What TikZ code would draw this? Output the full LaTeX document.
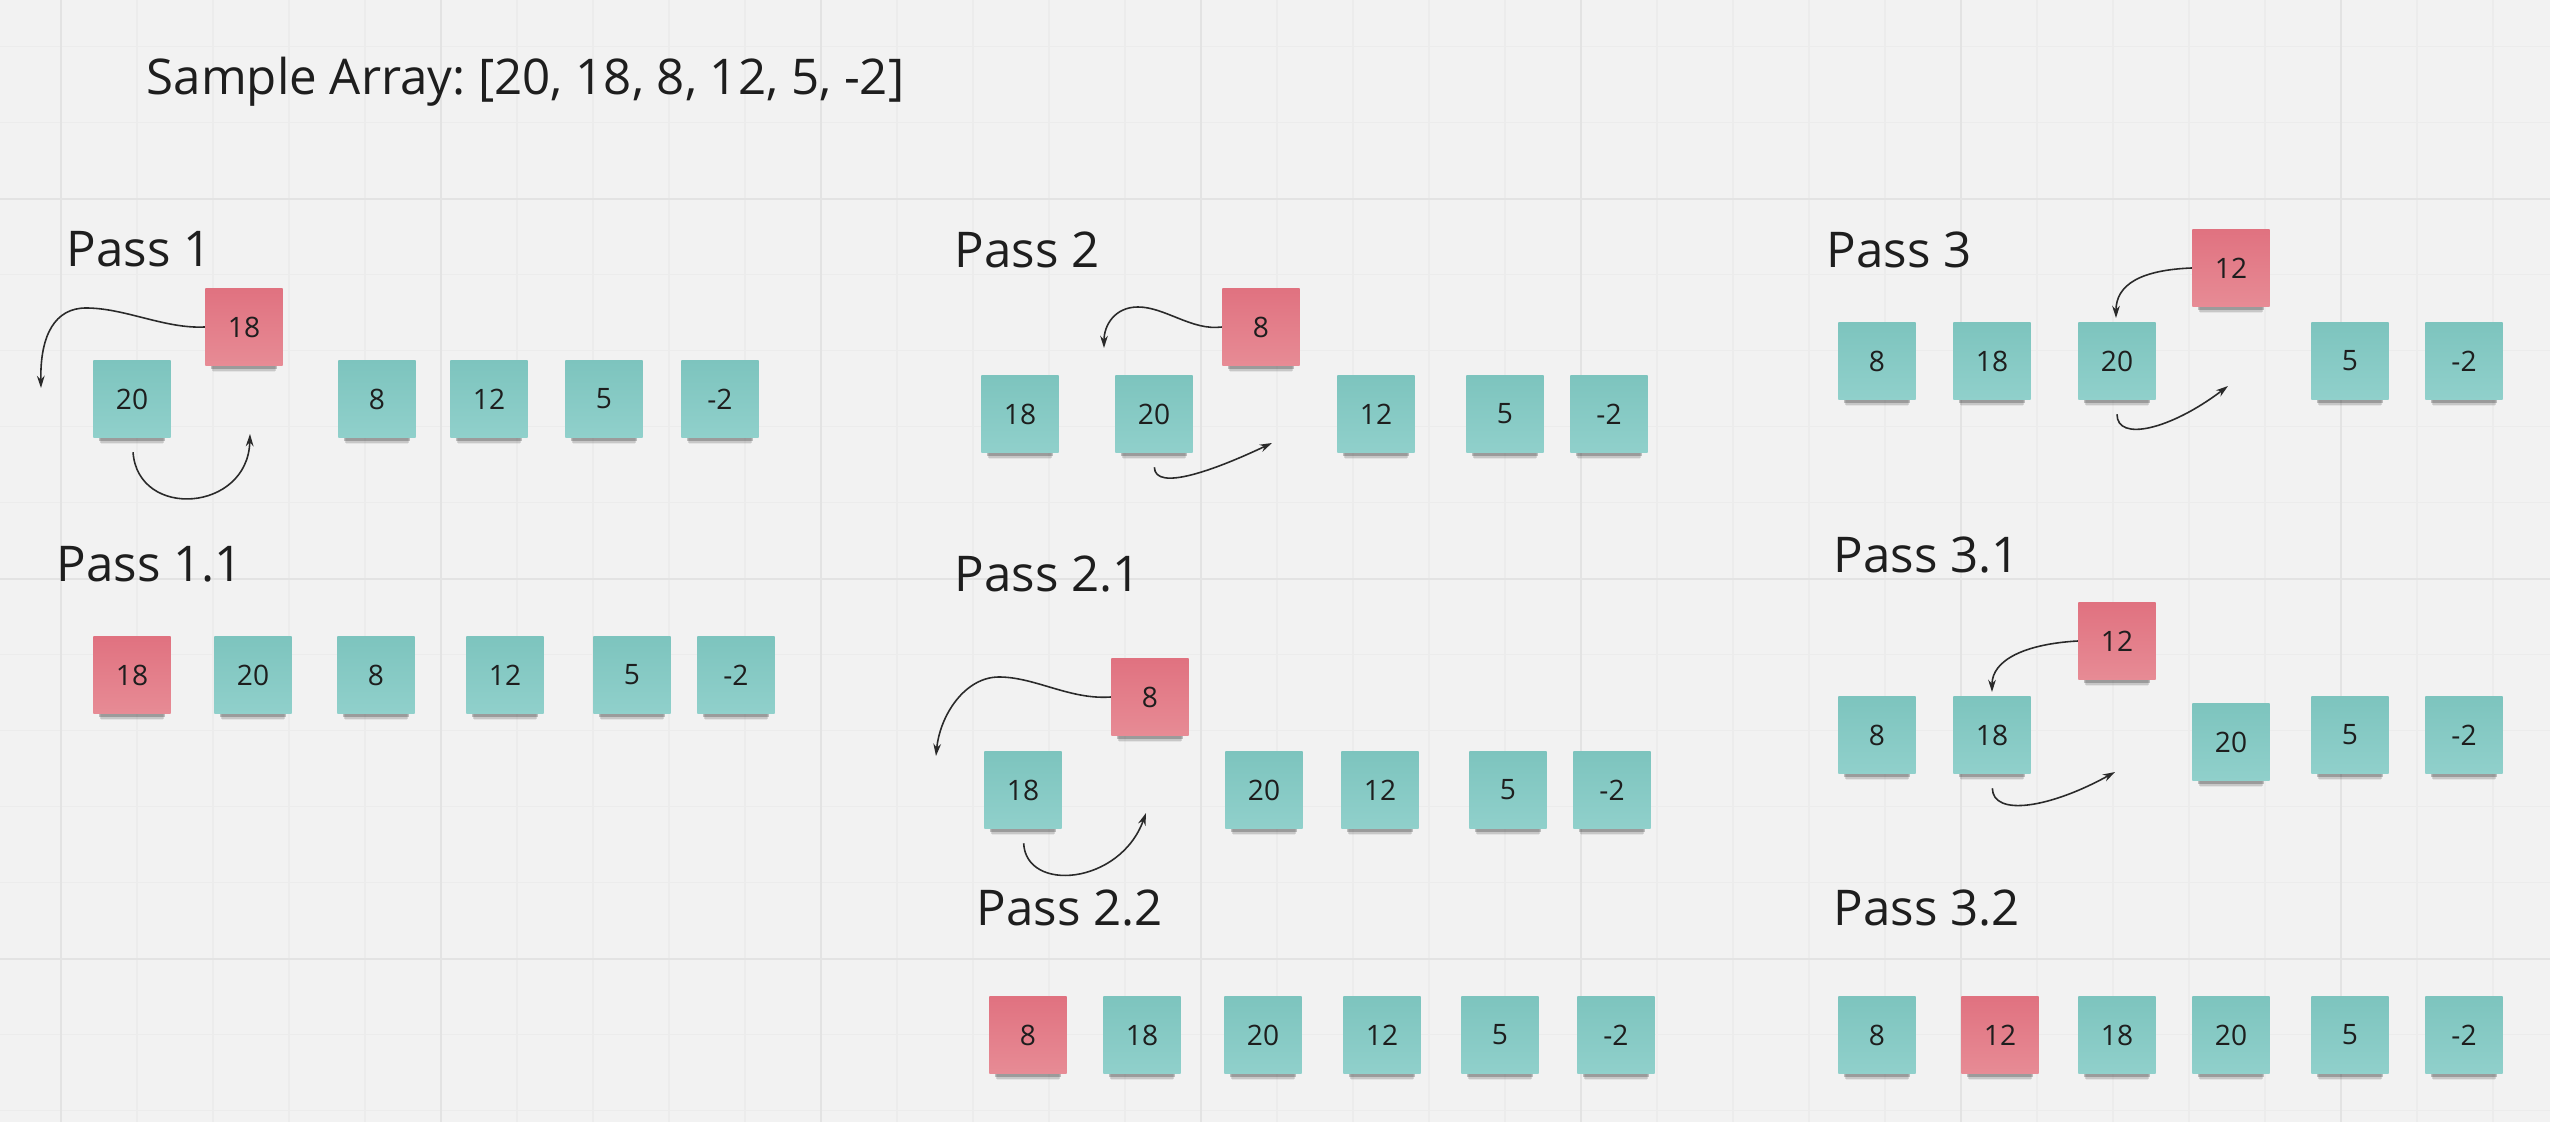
\documentclass[tikz,border=0pt]{standalone}
\usepackage{fontspec}
\setmainfont{Open Sans}
\frenchspacing
\usepackage{xcolor}
\definecolor{board}{HTML}{F2F2F2}
\definecolor{gridfaint}{HTML}{ECECEC}
\definecolor{gridbold}{HTML}{E3E3E3}
\definecolor{tealtop}{HTML}{7DC4BE}
\definecolor{tealbot}{HTML}{90D0CB}
\definecolor{redtop}{HTML}{E07280}
\definecolor{redbot}{HTML}{E78B95}
\definecolor{ink}{HTML}{1E1E1E}
\definecolor{wire}{HTML}{2A2A2A}
\usepackage{tikz}
\usetikzlibrary{arrows.meta,shadows}

\begin{document}
\begin{tikzpicture}[
  x=0.01cm, y=-0.01cm,
  note/.style={minimum width=0.77cm, minimum height=0.77cm, inner sep=0pt,
    top color=tealtop, bottom color=tealbot, text=ink,
    font=\fontsize{8}{9}\selectfont,
    general shadow={fill=black, opacity=.06, shadow yshift=-5.2pt, shadow scale=.8},
    general shadow={fill=black, opacity=.12, shadow yshift=-4pt, shadow scale=.83},
    general shadow={fill=black, opacity=.22, shadow yshift=-2.8pt, shadow scale=.86}},
  keynote/.style={note, top color=redtop, bottom color=redbot},
  lbl/.style={anchor=base west, inner sep=0pt, text=ink, font=\fontsize{14}{16}\selectfont},
  arr/.style={-{Stealth[length=3.5pt, width=2.2pt]}, wire, line width=.45pt},
  gridfine/.style={gridfaint, line width=.35pt},
  gridmain/.style={gridbold, line width=.6pt}
]
\useasboundingbox (0,0) rectangle (2550,1122);
\fill[board] (0,0) rectangle (2550,1122);
\foreach \gx in {61,137,...,2550} \draw[gridfine] (\gx,0) -- (\gx,1122);
\foreach \gy in {46.6,122.6,...,1122} \draw[gridfine] (0,\gy) -- (2550,\gy);
\foreach \gx in {61,441,...,2550} \draw[gridmain] (\gx,0) -- (\gx,1122);
\foreach \gy in {198.6,578.6,958.6} \draw[gridmain] (0,\gy) -- (2550,\gy);

\node[lbl] (title) at (146,95) {Sample Array: [20, 18, 8, 12, 5, -2]};

\node[lbl] (pass1) at (66,267) {Pass 1};
\node[keynote] (k1) at (244,327) {18};
\node[note] (p1a) at (132,399) {20};
\node[note] (p1b) at (377,399) {8};
\node[note] (p1c) at (489,399) {12};
\node[note] (p1d) at (604,399) {5};
\node[note] (p1e) at (720,399) {-2};
\coordinate (k1bend) at (86,308);
\coordinate (k1to) at (41,388);
\coordinate (p1to) at (250,434);
\draw[arr] (k1.west) .. controls (165,329) and (125,308) .. (k1bend)
  .. controls (55,308) and (40,335) .. (k1to);
\draw[arr, shorten <=4pt] (p1a.south) .. controls (138,520) and (248,512) .. (p1to);

\node[lbl] (pass11) at (56,582) {Pass 1.1};
\node[keynote] (q1a) at (132,675) {18};
\node[note] (q1b) at (253,675) {20};
\node[note] (q1c) at (376,675) {8};
\node[note] (q1d) at (505,675) {12};
\node[note] (q1e) at (632,675) {5};
\node[note] (q1f) at (736,675) {-2};

\node[lbl] (pass2) at (954,268) {Pass 2};
\node[keynote] (k2) at (1261,327) {8};
\node[note] (p2a) at (1020,414) {18};
\node[note] (p2b) at (1154,414) {20};
\node[note] (p2c) at (1376,414) {12};
\node[note] (p2d) at (1505,414) {5};
\node[note] (p2e) at (1609,414) {-2};
\coordinate (k2bend) at (1138,307);
\coordinate (k2to) at (1104,348);
\coordinate (p2to) at (1272,443);
\draw[arr] (k2.west) .. controls (1192,331) and (1165,307) .. (k2bend)
  .. controls (1115,307) and (1104,325) .. (k2to);
\draw[arr, shorten <=4pt] (p2b.south) .. controls (1155,492) and (1215,470) .. (p2to);

\node[lbl] (pass21) at (954,592) {Pass 2.1};
\node[keynote] (k21) at (1150,697) {8};
\node[note] (r2a) at (1023,790) {18};
\node[note] (r2b) at (1264,790) {20};
\node[note] (r2c) at (1380,790) {12};
\node[note] (r2d) at (1508,790) {5};
\node[note] (r2e) at (1612,790) {-2};
\coordinate (k21bend) at (999,677);
\coordinate (k21to) at (936,756);
\coordinate (r2to) at (1146,813);
\draw[arr] (k21.west) .. controls (1070,700) and (1035,677) .. (k21bend)
  .. controls (965,677) and (940,715) .. (k21to);
\draw[arr, shorten <=4pt] (r2a.south) .. controls (1026,893) and (1120,885) .. (r2to);

\node[lbl] (pass22) at (976,926) {Pass 2.2};
\node[keynote] (s2a) at (1028,1035) {8};
\node[note] (s2b) at (1142,1035) {18};
\node[note] (s2c) at (1263,1035) {20};
\node[note] (s2d) at (1382,1035) {12};
\node[note] (s2e) at (1500,1035) {5};
\node[note] (s2f) at (1616,1035) {-2};

\node[lbl] (pass3) at (1826,268) {Pass 3};
\node[keynote] (k3) at (2231,268) {12};
\node[note] (p3a) at (1877,361) {8};
\node[note] (p3b) at (1992,361) {18};
\node[note] (p3c) at (2117,361) {20};
\node[note] (p3d) at (2350,361) {5};
\node[note] (p3e) at (2464,361) {-2};
\coordinate (k3to) at (2116,318);
\coordinate (p3to) at (2228,386);
\draw[arr] (k3.west) .. controls (2140,270) and (2116,285) .. (k3to);
\draw[arr, shorten <=4pt] (p3c.south) .. controls (2117,442) and (2170,430) .. (p3to);

\node[lbl] (pass31) at (1833,573) {Pass 3.1};
\node[keynote] (k31) at (2117,641) {12};
\node[note] (r3a) at (1877,735) {8};
\node[note] (r3b) at (1992,735) {18};
\node[note] (r3c) at (2231,742) {20};
\node[note] (r3d) at (2350,735) {5};
\node[note] (r3e) at (2464,735) {-2};
\coordinate (k31to) at (1992,692);
\coordinate (r3to) at (2115,772);
\draw[arr] (k31.west) .. controls (2025,644) and (1992,660) .. (k31to);
\draw[arr, shorten <=4pt] (r3b.south) .. controls (1993,817) and (2050,808) .. (r3to);

\node[lbl] (pass32) at (1833,926) {Pass 3.2};
\node[note] (s3a) at (1877,1035) {8};
\node[keynote] (s3b) at (2000,1035) {12};
\node[note] (s3c) at (2117,1035) {18};
\node[note] (s3d) at (2231,1035) {20};
\node[note] (s3e) at (2350,1035) {5};
\node[note] (s3f) at (2464,1035) {-2};
\end{tikzpicture}
\end{document}
